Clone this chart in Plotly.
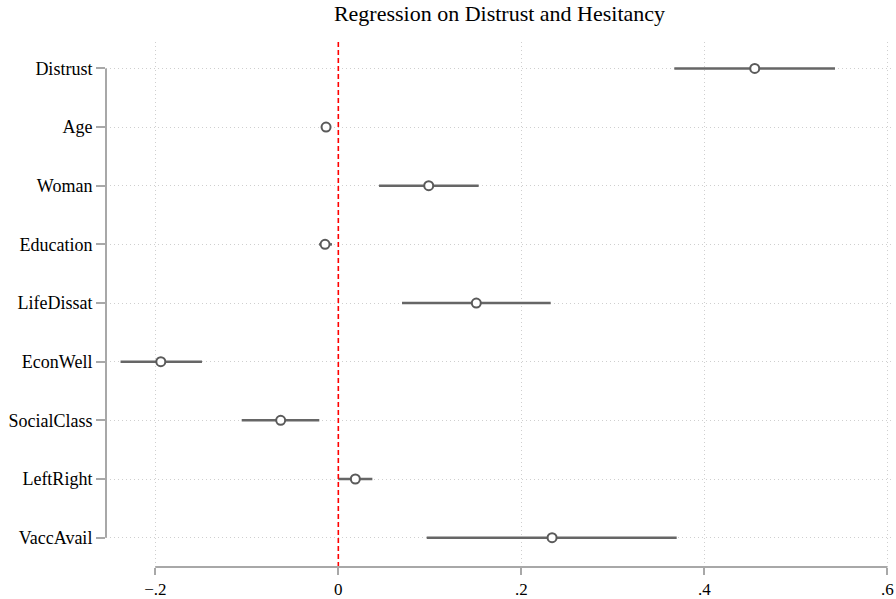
import plotly.graph_objects as go

# Coefficient estimates with 95% confidence bounds
variables = ["Distrust", "Age", "Woman", "Education", "LifeDissat",
             "EconWell", "SocialClass", "LeftRight", "VaccAvail"]
coef = [0.4551, -0.0134, 0.0988, -0.0145, 0.1508, -0.1940, -0.0630, 0.0186, 0.2336]
ci_low = [0.3672, -0.0190, 0.0445, -0.0210, 0.0696, -0.2380, -0.1056, 0.0000, 0.0966]
ci_high = [0.5428, -0.0080, 0.1534, -0.0069, 0.2321, -0.1490, -0.0208, 0.0372, 0.3698]

x_ticks = [-0.2, 0, 0.2, 0.4, 0.6]
x_tick_text = ["\u2212.2", "0", ".2", ".4", ".6"]

ypos = list(range(1, len(variables) + 1))

FONT = "Liberation Serif, Times New Roman, serif"
AXIS_GRAY = "#a8a8a8"
GRID_GRAY = "#cfcfcf"
MARK_GRAY = "#5a5a5a"

fig = go.Figure()

fig.add_trace(go.Scatter(
    x=coef,
    y=ypos,
    mode="markers",
    marker=dict(symbol="circle", size=9, color="white",
                line=dict(color=MARK_GRAY, width=2)),
    error_x=dict(type="data", symmetric=False,
                 array=[h - c for h, c in zip(ci_high, coef)],
                 arrayminus=[c - l for c, l in zip(coef, ci_low)],
                 color="#666666", thickness=2.5, width=0),
    showlegend=False,
    hoverinfo="skip",
))

# Reference line at zero
fig.add_shape(type="line", xref="x", yref="paper", x0=0, x1=0, y0=0, y1=1,
              line=dict(color="red", width=1.6, dash="5px,3px"), layer="above")

# Axis lines spanning only the tick range
fig.add_shape(type="line", xref="x", yref="paper", x0=x_ticks[0], x1=x_ticks[-1],
              y0=0, y1=0, line=dict(color=AXIS_GRAY, width=2))
fig.add_shape(type="line", xref="paper", yref="y", x0=0, x1=0,
              y0=ypos[0], y1=ypos[-1], line=dict(color=AXIS_GRAY, width=2))

fig.update_layout(
    width=896, height=599,
    margin=dict(l=106, r=3, t=42, b=32),
    paper_bgcolor="white", plot_bgcolor="white",
    font=dict(family=FONT, size=18, color="black"),
    title=dict(text="Regression on Distrust and Hesitancy", x=0.5, xanchor="center",
               xref="paper", y=0.977, yanchor="middle",
               font=dict(family=FONT, size=22, color="black")),
    xaxis=dict(range=[-0.2539, 0.6062], tickvals=x_ticks, ticktext=x_tick_text,
               showgrid=True, gridcolor=GRID_GRAY, griddash="1px,3px", gridwidth=1,
               zeroline=False, showline=False, ticks="outside", ticklen=7,
               tickwidth=2, tickcolor=AXIS_GRAY, automargin=False,
               tickfont=dict(family=FONT, size=17, color="black")),
    yaxis=dict(range=[9.5, 0.55], tickvals=ypos, ticktext=variables,
               showgrid=True, gridcolor=GRID_GRAY, griddash="1px,3px", gridwidth=1,
               zeroline=False, showline=False, ticks="outside", ticklen=9,
               tickwidth=2, tickcolor=AXIS_GRAY, automargin=False),
)

fig.write_html("out.html")
